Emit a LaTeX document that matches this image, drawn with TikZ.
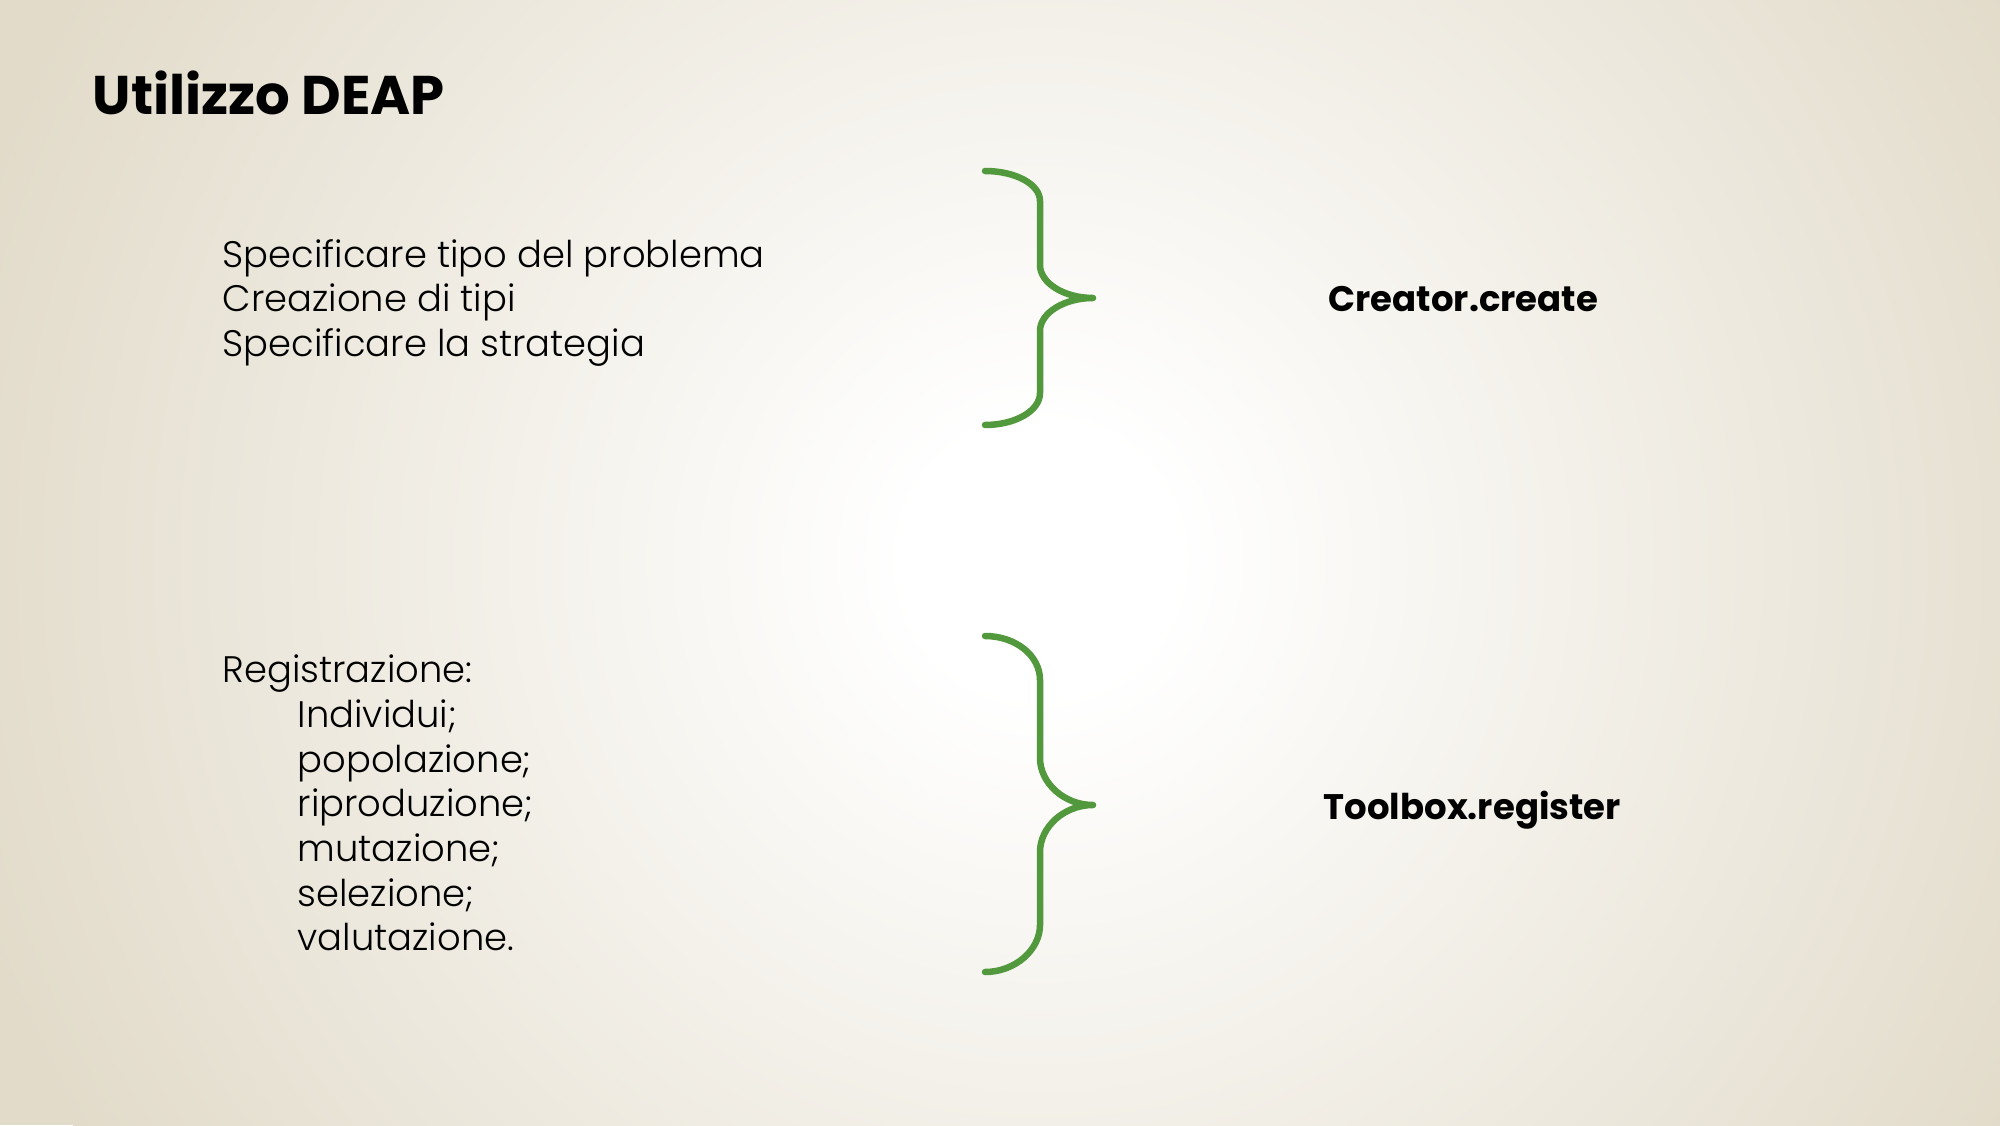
\documentclass[tikz,border=0pt]{standalone}
\usepackage{fontspec}
\setmainfont{Poppins}
\newfontfamily\lightfont{Poppins Light}
\definecolor{bgedge}{RGB}{226,219,202}
\definecolor{bracegreen}{RGB}{82,152,60}
\pgfdeclareradialshading{slidebg}{\pgfpoint{0bp}{0bp}}{color(0bp)=(white); color(3bp)=(white); color(25bp)=(bgedge); color(50bp)=(bgedge)}
\tikzset{
  body/.style={anchor=base west, inner sep=0pt, font=\lightfont\fontsize{10.5}{12}\selectfont},
  label/.style={anchor=base west, inner sep=0pt, font=\fontsize{10.1}{12}\selectfont\bfseries},
  bracepath/.style={draw=bracegreen, line width=0.065cm, line cap=round, line join=round}
}
\begin{document}
\begin{tikzpicture}
\useasboundingbox (0,0) rectangle (20,11.25);
\begin{scope}
\clip (0,0) rectangle (20,11.25);
\fill[bgedge] (0,0) rectangle (20,11.25);
\shade[shading=slidebg] (10.4,5.65) circle (11.2);
\end{scope}
% title
\node[anchor=base west, inner sep=0pt, font=\fontsize{15.5}{19}\selectfont\bfseries] (title) at (0.92,10.10) {Utilizzo DEAP};
% block 1
\node[body] (a1) at (2.22,8.57) {Specificare tipo del problema};
\node[body] (a2) at (2.22,8.13) {Creazione di tipi};
\node[body] (a3) at (2.22,7.68) {Specificare la strategia};
% block 2
\node[body] (b0) at (2.22,4.43) {Registrazione:};
\node[body] (b1) at (2.97,3.98) {Individui;};
\node[body] (b2) at (2.97,3.53) {popolazione;};
\node[body] (b3) at (2.97,3.09) {riproduzione;};
\node[body] (b4) at (2.97,2.64) {mutazione;};
\node[body] (b5) at (2.97,2.19) {selezione;};
\node[body] (b6) at (2.97,1.75) {valutazione.};
% labels
\node[label] (c1) at (13.28,8.13) {Creator.create};
\node[label] (c2) at (13.23,3.06) {Toolbox.register};
% brace 1
\draw[bracepath] (9.85,9.54) .. controls (10.15,9.54) and (10.40,9.41) .. (10.40,9.24)
  -- (10.40,8.60) .. controls (10.40,8.42) and (10.64,8.27) .. (10.93,8.27)
  .. controls (10.64,8.27) and (10.40,8.12) .. (10.40,7.94)
  -- (10.40,7.32) .. controls (10.40,7.14) and (10.15,7.00) .. (9.85,7.00);
% brace 2
\draw[bracepath] (9.85,4.89) .. controls (10.15,4.89) and (10.40,4.70) .. (10.40,4.45)
  -- (10.40,3.67) .. controls (10.40,3.42) and (10.64,3.20) .. (10.93,3.20)
  .. controls (10.64,3.20) and (10.40,2.98) .. (10.40,2.73)
  -- (10.40,2.00) .. controls (10.40,1.75) and (10.15,1.53) .. (9.85,1.53);
\end{tikzpicture}
\end{document}
